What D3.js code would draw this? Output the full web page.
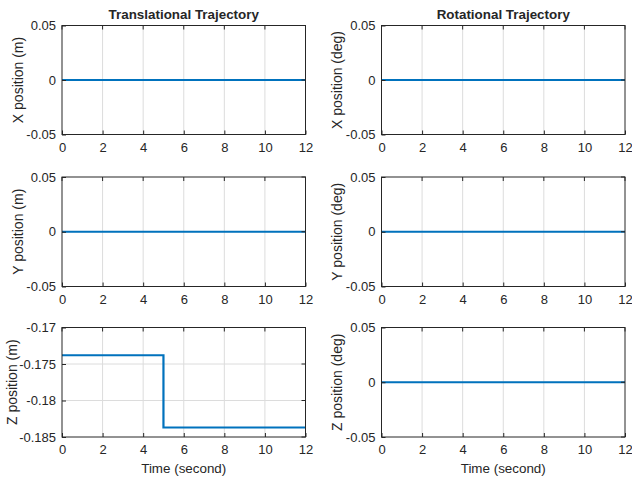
<!DOCTYPE html>
<html><head><meta charset="utf-8">
<script src="https://cdn.jsdelivr.net/npm/d3@7"></script>
<style>body{margin:0;background:#fff}svg{display:block}text{font-family:"Liberation Sans",Arial,sans-serif;fill:#262626}</style>
</head><body><svg id="c" width="632" height="480"></svg>
<script>
const xTicks = [0, 2, 4, 6, 8, 10, 12];
const zeroTicks = [-0.05, 0, 0.05];
const zTicks = [-0.185, -0.18, -0.175, -0.17];
const timeX = [0, 5, 5, 12];
const zeroSeries = [0, 0, 0, 0];
const zSeries = [-0.1738, -0.1738, -0.1837, -0.1837];
const titles = ["Translational Trajectory", "Rotational Trajectory"];
const yLabels = [["X position (m)", "Y position (m)", "Z position (m)"],
                 ["X position (deg)", "Y position (deg)", "Z position (deg)"]];
const xLabel = "Time (second)";

const svg = d3.select("#c");
const cols = [{l: 62, r: 305.5}, {l: 381.5, r: 625}];
const rows = [{t: 25.5, b: 134.5}, {t: 177, b: 286.5}, {t: 327.5, b: 437}];
const fmt = d => d === 0 ? "0" : String(d);

cols.forEach((c, ci) => {
  rows.forEach((r, ri) => {
    const isZ = ci === 0 && ri === 2;
    const yDom = isZ ? [-0.185, -0.17] : [-0.05, 0.05];
    const yT = isZ ? zTicks : zeroTicks;
    const vals = isZ ? zSeries : zeroSeries;
    const x = d3.scaleLinear().domain([0, 12]).range([c.l, c.r]);
    const y = d3.scaleLinear().domain(yDom).range([r.b, r.t]);
    const g = svg.append("g");
    g.selectAll(".gx").data(xTicks.slice(1, -1)).join("line")
      .attr("x1", d => x(d)).attr("x2", d => x(d)).attr("y1", r.t).attr("y2", r.b)
      .attr("stroke", "#dcdcdc").attr("stroke-width", 1);
    g.selectAll(".gy").data(yT.slice(1, -1)).join("line")
      .attr("y1", d => y(d)).attr("y2", d => y(d)).attr("x1", c.l).attr("x2", c.r)
      .attr("stroke", "#dcdcdc").attr("stroke-width", 1);
    const line = d3.line().x((d, i) => x(timeX[i])).y(d => y(d));
    g.append("path").datum(vals).attr("d", line).attr("fill", "none")
      .attr("stroke", "#0072BD").attr("stroke-width", 2.2);
    const ax = d3.axisBottom(x).tickValues(xTicks).tickSize(-4).tickPadding(8).tickFormat(fmt);
    const gx = g.append("g").attr("transform", `translate(0,${r.b})`).call(ax);
    const ay = d3.axisLeft(y).tickValues(yT).tickSize(-4).tickPadding(6).tickFormat(fmt);
    const gy = g.append("g").attr("transform", `translate(${c.l},0)`).call(ay);
    [gx, gy].forEach(a => {
      a.attr("font-size", null).attr("font-family", null);
      a.select(".domain").remove();
      a.selectAll("line").attr("stroke", "#262626");
      a.selectAll("text").attr("font-size", 13).attr("fill", "#262626");
    });
    g.selectAll(".tt").data(xTicks).join("line")
      .attr("x1", d => x(d)).attr("x2", d => x(d)).attr("y1", r.t).attr("y2", r.t + 4).attr("stroke", "#262626");
    g.selectAll(".rt").data(yT).join("line")
      .attr("y1", d => y(d)).attr("y2", d => y(d)).attr("x1", c.r).attr("x2", c.r - 4).attr("stroke", "#262626");
    g.append("rect").attr("x", c.l).attr("y", r.t).attr("width", c.r - c.l).attr("height", r.b - r.t)
      .attr("fill", "none").attr("stroke", "#262626").attr("stroke-width", 1);
    const lx = ci === 0 ? (isZ ? 17 : 23) : 342;
    svg.append("text").attr("transform", `translate(${lx},${(r.t + r.b) / 2}) rotate(-90)`)
      .attr("text-anchor", "middle").attr("font-size", 14).text(yLabels[ci][ri]);
    if (ri === 0) {
      svg.append("text").attr("x", (c.l + c.r) / 2).attr("y", 18.5).attr("text-anchor", "middle")
        .attr("font-size", 13.4).attr("font-weight", "bold").text(titles[ci]);
    }
    if (ri === 2) {
      svg.append("text").attr("x", (c.l + c.r) / 2).attr("y", 473).attr("text-anchor", "middle")
        .attr("font-size", 13.4).text(xLabel);
    }
  });
});
</script></body></html>
